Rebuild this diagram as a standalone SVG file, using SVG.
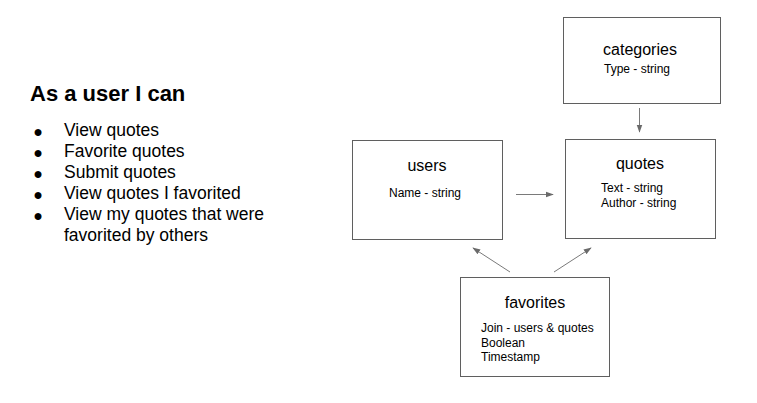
<svg xmlns="http://www.w3.org/2000/svg" width="757" height="403" viewBox="0 0 757 403">
<defs>
<style>
text{font-family:"Liberation Sans",Arial,sans-serif;fill:#000}
.box{fill:#fff;stroke:#5f5f5f;stroke-width:1}
.title{font-size:16px;text-anchor:middle}
.attr{font-size:12px}
.item{font-size:17.5px}
.bul{font-size:16px;text-anchor:middle}
.conn{stroke:#7a7a7a;stroke-width:1;fill:none;marker-end:url(#ah)}
</style>
<marker id="ah" viewBox="0 0 10 10" refX="9" refY="5" markerWidth="8" markerHeight="8" markerUnits="userSpaceOnUse" orient="auto">
<path d="M0,1.5 L10,5 L0,8.5 Z" fill="#6a6a6a"/>
</marker>
</defs>
<rect width="757" height="403" fill="#fff"/>
<g id="story">
<text x="30" y="101" style="font-size:22px;font-weight:bold">As a user I can</text>
<text class="bul" x="38" y="137">●</text>
<text class="bul" x="38" y="158">●</text>
<text class="bul" x="38" y="179">●</text>
<text class="bul" x="38" y="200">●</text>
<text class="bul" x="38" y="221">●</text>
<text class="item" x="64" y="136">View quotes</text>
<text class="item" x="64" y="157">Favorite quotes</text>
<text class="item" x="64" y="178">Submit quotes</text>
<text class="item" x="64" y="199">View quotes I favorited</text>
<text class="item" x="64" y="220">View my quotes that were</text>
<text class="item" x="64" y="241">favorited by others</text>
</g>
<g id="categories">
<rect class="box" x="563.5" y="17.5" width="157" height="86"/>
<text class="title" x="640" y="55">categories</text>
<text class="attr" x="604" y="73">Type - string</text>
</g>
<g id="users">
<rect class="box" x="352.5" y="140.5" width="150" height="99"/>
<text class="title" x="427" y="171">users</text>
<text class="attr" x="389" y="197">Name - string</text>
</g>
<g id="quotes">
<rect class="box" x="565.5" y="139.5" width="150" height="99"/>
<text class="title" x="640" y="169">quotes</text>
<text class="attr" x="601" y="192">Text - string</text>
<text class="attr" x="601" y="207">Author - string</text>
</g>
<g id="favorites">
<rect class="box" x="460.5" y="277.5" width="149" height="99"/>
<text class="title" x="535" y="308">favorites</text>
<text class="attr" x="481" y="332">Join - users &amp; quotes</text>
<text class="attr" x="481" y="346.5">Boolean</text>
<text class="attr" x="481" y="361">Timestamp</text>
</g>
<g id="connectors">
<line class="conn" x1="639.5" y1="108" x2="639.5" y2="132"/>
<line class="conn" x1="516" y1="194.5" x2="553" y2="194.5"/>
<line class="conn" x1="510" y1="272" x2="473" y2="248"/>
<line class="conn" x1="554" y1="272" x2="591" y2="248"/>
</g>
</svg>
